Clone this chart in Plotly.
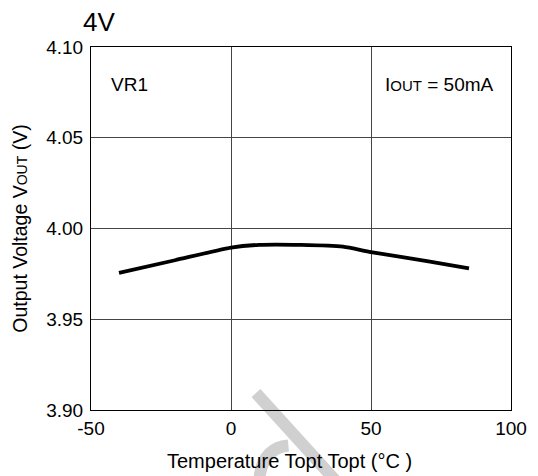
import plotly.graph_objects as go

temperature = [-40, -20, 0, 10, 25, 40, 50, 70, 85]
vout = [3.9755, 3.9825, 3.9895, 3.9910, 3.9910, 3.9900, 3.9870, 3.9820, 3.9780]

x_ticks = [-50, 0, 50, 100]
x_ticklabels = ["-50", "0", "50", "100"]
y_ticks = [3.90, 3.95, 4.00, 4.05, 4.10]
y_ticklabels = ["3.90", "3.95", "4.00", "4.05", "4.10"]

FONT = "Liberation Sans, Arial, sans-serif"

# plot area in window pixels: x 91..511, y 47..410 (page has 8px body margin)
fig = go.Figure()
fig.add_trace(go.Scatter(x=temperature, y=vout, mode="lines",
                         line=dict(color="black", width=3.8, shape="spline", smoothing=0.6),
                         showlegend=False, hoverinfo="skip"))

fig.update_layout(
    width=538, height=476,
    margin=dict(l=83, r=35, t=39, b=74),
    paper_bgcolor="white", plot_bgcolor="white",
    font=dict(family=FONT, color="black", size=19),
    showlegend=False,
    xaxis=dict(range=[-50, 100], tickvals=x_ticks, ticktext=x_ticklabels, ticks="", showgrid=True,
               gridcolor="#444444", gridwidth=1, showline=True, linecolor="black",
               linewidth=1, mirror=True, zeroline=False, ticklabelstandoff=1,
               tickfont=dict(size=19)),
    yaxis=dict(range=[3.90, 4.10], tickvals=y_ticks, ticktext=y_ticklabels, ticks="",
               showgrid=True, gridcolor="#444444", gridwidth=1, showline=True,
               linecolor="black", linewidth=1, mirror=True, zeroline=False,
               ticklabelstandoff=3, tickfont=dict(size=19),
               title=dict(text="Output Voltage V<span style='font-size:14px'>OUT</span> (V)",
                          font=dict(size=19.5), standoff=13)),
)

# x-axis title (slightly left of plot centre, as in the reference)
fig.add_annotation(text="Temperature Topt Topt (°C )", xref="paper", yref="paper",
                   x=(289 - 91) / 420, y=(410 - 461) / 363, xanchor="center", yanchor="middle",
                   showarrow=False, font=dict(size=20))
fig.add_annotation(text="4V", xref="paper", yref="paper", x=(99 - 91) / 420, y=(410 - 22) / 363,
                   xanchor="center", yanchor="middle", showarrow=False, font=dict(size=26),
                   borderpad=0)
fig.add_annotation(text="VR1", xref="paper", yref="paper", x=(109 - 91) / 420, y=(410 - 84) / 363,
                   xanchor="left", yanchor="middle", showarrow=False, font=dict(size=19))
fig.add_annotation(text="I<span style='font-size:15px'>OUT</span> = 50mA", xref="paper", yref="paper",
                   x=(383 - 91) / 420, y=(410 - 84) / 363,
                   xanchor="left", yanchor="middle", showarrow=False, font=dict(size=19))

# faint watermark fragment
fig.add_shape(type="line", xref="paper", yref="paper", layer="below",
              x0=(256 - 91) / 420, y0=(410 - 393) / 363, x1=(335 - 91) / 420, y1=(410 - 480) / 363,
              line=dict(color="#d0d0d0", width=12))
fig.add_shape(type="path", xref="paper", yref="paper", layer="below",
              path="M 0.400,-0.20 Q 0.405,-0.105 0.47,-0.098",
              line=dict(color="#d0d0d0", width=12))

fig.write_html("out.html")
